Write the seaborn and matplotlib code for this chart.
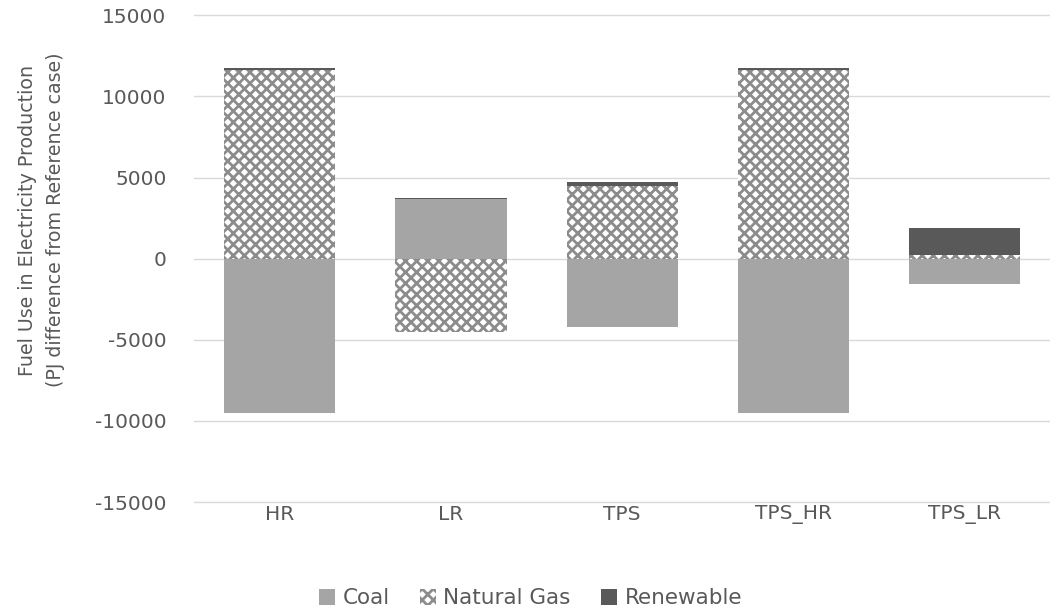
import matplotlib
matplotlib.use("Agg")
import matplotlib.pyplot as plt
import seaborn as sns
import pandas as pd
import numpy as np
from matplotlib.patches import Patch

categories = ["HR", "LR", "TPS", "TPS_HR", "TPS_LR"]
coal = [-9500, 3650, -4200, -9500, -1550]
natural_gas = [11600, -4500, 4450, 11600, 250]
renewable = [150, 100, 300, 150, 1650]
series_names = ["Coal", "Natural Gas", "Renewable"]

sns.set_theme(style="white")
plt.rcParams['font.family'] = ['DejaVu Sans']
plt.rcParams['hatch.linewidth'] = 2.0
plt.rcParams['axes.unicode_minus'] = False

fig, ax = plt.subplots(figsize=(10.5, 6.13), dpi=100)
fig.subplots_adjust(left=0.185, right=1.0, top=0.975, bottom=0.181)

df = pd.DataFrame({"cat": categories, "Coal": coal, "Natural Gas": natural_gas, "Renewable": renewable})

pos_bottom = np.zeros(len(categories))
neg_bottom = np.zeros(len(categories))
styles = {
    "Coal": dict(color="#a5a5a5", hatch=None, edgecolor="#a5a5a5"),
    "Natural Gas": dict(color="white", hatch="xxx", edgecolor="#8c8c8c"),
    "Renewable": dict(color="#595959", hatch=None, edgecolor="#595959"),
}
for name in series_names:
    vals = np.array(df[name], dtype=float)
    bottoms = np.where(vals >= 0, pos_bottom, neg_bottom)
    st = styles[name]
    sns.barplot(x=df["cat"], y=vals, bottom=bottoms, ax=ax, color=st["color"],
                width=0.65, linewidth=0, edgecolor=st["edgecolor"], hatch=st["hatch"],
                saturation=1)
    pos_bottom = pos_bottom + np.where(vals >= 0, vals, 0)
    neg_bottom = neg_bottom + np.where(vals < 0, vals, 0)

ax.set_ylim(-15000, 15000)
ax.set_yticks(np.arange(-15000, 15001, 5000))
ax.yaxis.grid(True, color="#d9d9d9", linewidth=1)
for gl in ax.get_ygridlines():
    gl.set_clip_on(False)
ax.set_axisbelow(True)
for s in ax.spines.values():
    s.set_visible(False)
ax.tick_params(axis="both", colors="#595959", labelsize=14.5, length=0)
ax.tick_params(axis="y", pad=20)
ax.tick_params(axis="x", pad=2)
ax.set_xlabel("")
ax.set_ylabel("Fuel Use in Electricity Production\n(PJ difference from Reference case)",
              fontsize=13.7, color="#595959", linespacing=1.6)
ax.yaxis.set_label_coords(-0.151, 0.579)

handles = [Patch(facecolor="#a5a5a5", edgecolor="none", label="Coal"),
           Patch(facecolor="white", edgecolor="#8c8c8c", hatch="xxx", linewidth=0, label="Natural Gas"),
           Patch(facecolor="#595959", edgecolor="none", label="Renewable")]
fig.legend(handles=handles, loc="center", bbox_to_anchor=(0.505, 0.024), ncol=3, frameon=False,
           fontsize=15.5, labelcolor="#595959", handlelength=0.75, handleheight=0.75,
           handletextpad=0.35, columnspacing=1.4)

fig.savefig("out.png", dpi=100)
